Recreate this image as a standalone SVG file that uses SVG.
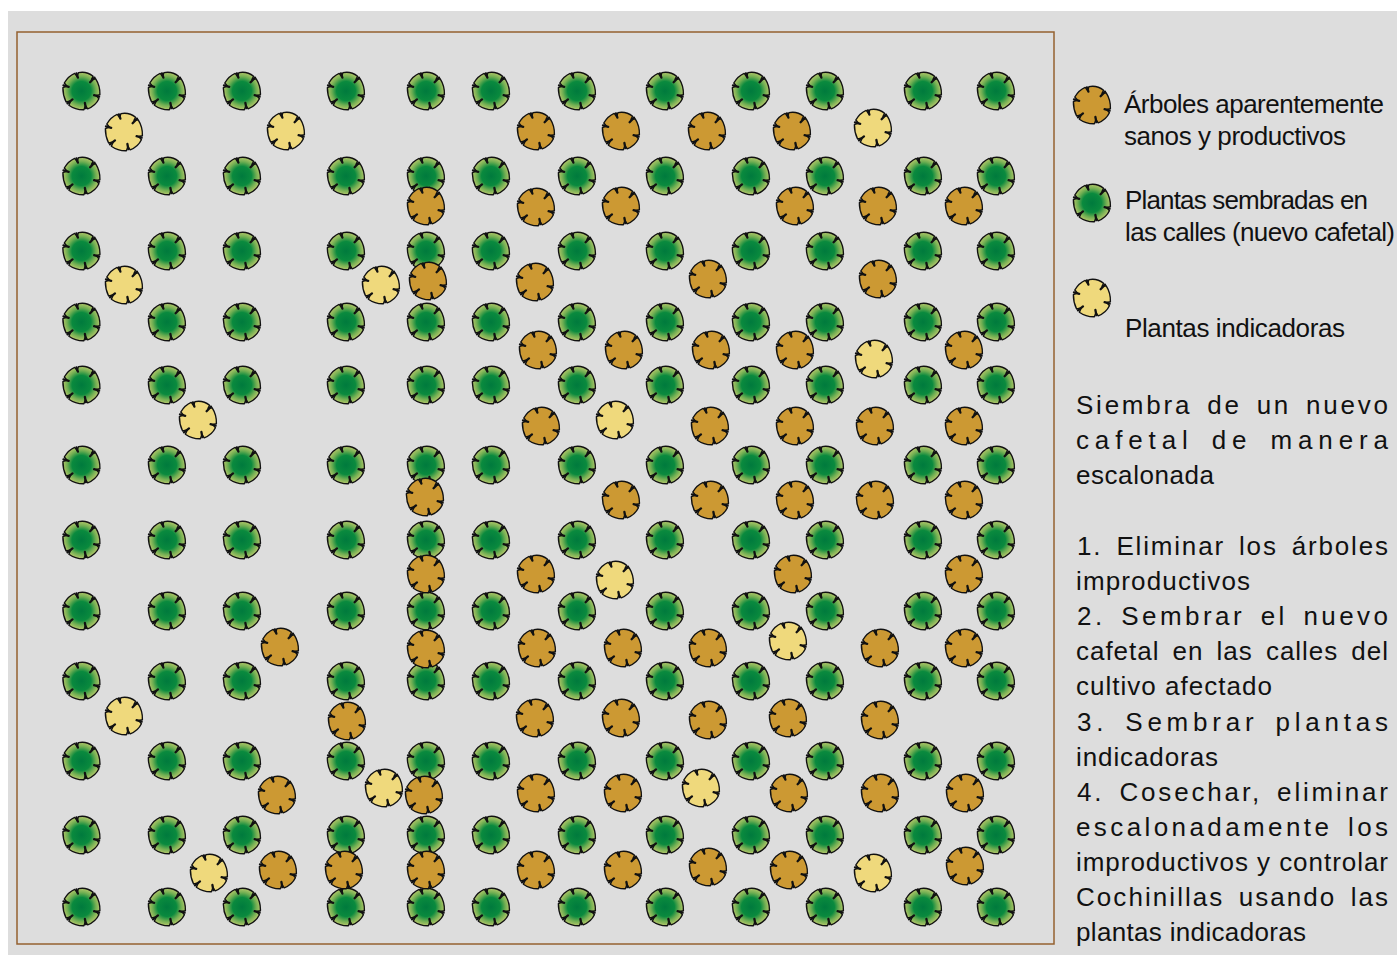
<svg xmlns="http://www.w3.org/2000/svg" xmlns:xlink="http://www.w3.org/1999/xlink" width="1397" height="955" viewBox="0 0 1397 955">
<style>
.t{font-family:"Liberation Sans",Arial,sans-serif;font-size:26px;fill:#111}
.w{word-spacing:5px}
.o{fill:#cc9933}.y{fill:#efd97c}.g{fill:url(#gr)}
</style>
<defs>
<radialGradient id="gr" gradientUnits="userSpaceOnUse" cx="0" cy="0" r="19">
<stop offset="0" stop-color="#007a3d"/><stop offset="0.5" stop-color="#0a8a3e"/><stop offset="0.75" stop-color="#6fae52"/><stop offset="1" stop-color="#b9c96c"/>
</radialGradient>
<symbol id="p" viewBox="-21 -21 42 42" width="42" height="42" overflow="visible">
<path stroke="#111" stroke-width="1.4" stroke-linejoin="round" d="M-3,-18.4Q5,-20 11.6,-14.8L10,-11.6L14.2,-12.2Q18.8,-5 18.4,3.8L14.8,4.4L17.4,7.8Q14,15 6.2,17.8L4,14.6L2.4,18.8Q-6,19 -12.6,14.2L-10.8,10L-15.4,11Q-18.8,4 -18.6,-3.4L-14.6,-5L-17.2,-8Q-13,-15 -6.8,-17.6L-4.4,-14.4Z"/>
<path fill="none" stroke="#111" stroke-width="2.3" stroke-linecap="round" d="M-5,-17.6L-3.6,-13.4M13,-13.4L8.6,-8.8M17.6,5.6L12.6,4.2M4.4,17.2L3.4,12M-14,12.4L-9,8.4M-18,-5.6L-12.8,-4.2"/>
</symbol>
</defs>
<rect x="8" y="11" width="1389" height="944" fill="#dddddd"/>
<rect x="17" y="32" width="1037" height="912" fill="none" stroke="#94602f" stroke-width="1.5"/>
<g id="plantas-sembradas" class="g">
<use href="#p" x="60.5" y="70"/><use href="#p" x="146" y="70"/><use href="#p" x="221" y="70"/><use href="#p" x="325" y="70"/><use href="#p" x="405" y="70"/><use href="#p" x="470" y="70"/><use href="#p" x="556" y="70"/><use href="#p" x="644" y="70"/><use href="#p" x="730" y="70"/><use href="#p" x="804" y="70"/><use href="#p" x="902" y="70"/><use href="#p" x="975" y="70"/>
<use href="#p" x="60.5" y="155"/><use href="#p" x="146" y="155"/><use href="#p" x="221" y="155"/><use href="#p" x="325" y="155"/><use href="#p" x="405" y="155"/><use href="#p" x="470" y="155"/><use href="#p" x="556" y="155"/><use href="#p" x="644" y="155"/><use href="#p" x="730" y="155"/><use href="#p" x="804" y="155"/><use href="#p" x="902" y="155"/><use href="#p" x="975" y="155"/>
<use href="#p" x="60.5" y="230"/><use href="#p" x="146" y="230"/><use href="#p" x="221" y="230"/><use href="#p" x="325" y="230"/><use href="#p" x="405" y="230"/><use href="#p" x="470" y="230"/><use href="#p" x="556" y="230"/><use href="#p" x="644" y="230"/><use href="#p" x="730" y="230"/><use href="#p" x="804" y="230"/><use href="#p" x="902" y="230"/><use href="#p" x="975" y="230"/>
<use href="#p" x="60.5" y="301"/><use href="#p" x="146" y="301"/><use href="#p" x="221" y="301"/><use href="#p" x="325" y="301"/><use href="#p" x="405" y="301"/><use href="#p" x="470" y="301"/><use href="#p" x="556" y="301"/><use href="#p" x="644" y="301"/><use href="#p" x="730" y="301"/><use href="#p" x="804" y="301"/><use href="#p" x="902" y="301"/><use href="#p" x="975" y="301"/>
<use href="#p" x="60.5" y="364"/><use href="#p" x="146" y="364"/><use href="#p" x="221" y="364"/><use href="#p" x="325" y="364"/><use href="#p" x="405" y="364"/><use href="#p" x="470" y="364"/><use href="#p" x="556" y="364"/><use href="#p" x="644" y="364"/><use href="#p" x="730" y="364"/><use href="#p" x="804" y="364"/><use href="#p" x="902" y="364"/><use href="#p" x="975" y="364"/>
<use href="#p" x="60.5" y="444"/><use href="#p" x="146" y="444"/><use href="#p" x="221" y="444"/><use href="#p" x="325" y="444"/><use href="#p" x="405" y="444"/><use href="#p" x="470" y="444"/><use href="#p" x="556" y="444"/><use href="#p" x="644" y="444"/><use href="#p" x="730" y="444"/><use href="#p" x="804" y="444"/><use href="#p" x="902" y="444"/><use href="#p" x="975" y="444"/>
<use href="#p" x="60.5" y="519"/><use href="#p" x="146" y="519"/><use href="#p" x="221" y="519"/><use href="#p" x="325" y="519"/><use href="#p" x="405" y="519"/><use href="#p" x="470" y="519"/><use href="#p" x="556" y="519"/><use href="#p" x="644" y="519"/><use href="#p" x="730" y="519"/><use href="#p" x="804" y="519"/><use href="#p" x="902" y="519"/><use href="#p" x="975" y="519"/>
<use href="#p" x="60.5" y="590"/><use href="#p" x="146" y="590"/><use href="#p" x="221" y="590"/><use href="#p" x="325" y="590"/><use href="#p" x="405" y="590"/><use href="#p" x="470" y="590"/><use href="#p" x="556" y="590"/><use href="#p" x="644" y="590"/><use href="#p" x="730" y="590"/><use href="#p" x="804" y="590"/><use href="#p" x="902" y="590"/><use href="#p" x="975" y="590"/>
<use href="#p" x="60.5" y="660"/><use href="#p" x="146" y="660"/><use href="#p" x="221" y="660"/><use href="#p" x="325" y="660"/><use href="#p" x="405" y="660"/><use href="#p" x="470" y="660"/><use href="#p" x="556" y="660"/><use href="#p" x="644" y="660"/><use href="#p" x="730" y="660"/><use href="#p" x="804" y="660"/><use href="#p" x="902" y="660"/><use href="#p" x="975" y="660"/>
<use href="#p" x="60.5" y="740"/><use href="#p" x="146" y="740"/><use href="#p" x="221" y="740"/><use href="#p" x="325" y="740"/><use href="#p" x="405" y="740"/><use href="#p" x="470" y="740"/><use href="#p" x="556" y="740"/><use href="#p" x="644" y="740"/><use href="#p" x="730" y="740"/><use href="#p" x="804" y="740"/><use href="#p" x="902" y="740"/><use href="#p" x="975" y="740"/>
<use href="#p" x="60.5" y="814"/><use href="#p" x="146" y="814"/><use href="#p" x="221" y="814"/><use href="#p" x="325" y="814"/><use href="#p" x="405" y="814"/><use href="#p" x="470" y="814"/><use href="#p" x="556" y="814"/><use href="#p" x="644" y="814"/><use href="#p" x="730" y="814"/><use href="#p" x="804" y="814"/><use href="#p" x="902" y="814"/><use href="#p" x="975" y="814"/>
<use href="#p" x="60.5" y="886"/><use href="#p" x="146" y="886"/><use href="#p" x="221" y="886"/><use href="#p" x="325" y="886"/><use href="#p" x="405" y="886"/><use href="#p" x="470" y="886"/><use href="#p" x="556" y="886"/><use href="#p" x="644" y="886"/><use href="#p" x="730" y="886"/><use href="#p" x="804" y="886"/><use href="#p" x="902" y="886"/><use href="#p" x="975" y="886"/>
<use href="#p" x="1071" y="182"/>
</g>
<g id="arboles-sanos" class="o">
<use href="#p" x="515" y="110"/><use href="#p" x="600" y="110"/><use href="#p" x="686" y="110"/><use href="#p" x="771" y="110"/>
<use href="#p" x="405" y="185"/><use href="#p" x="515" y="186"/><use href="#p" x="600" y="185"/><use href="#p" x="774" y="185"/><use href="#p" x="857" y="185"/><use href="#p" x="943" y="185"/>
<use href="#p" x="407" y="260"/><use href="#p" x="514" y="261"/><use href="#p" x="687" y="258"/><use href="#p" x="857" y="258"/>
<use href="#p" x="517" y="329"/><use href="#p" x="603" y="329"/><use href="#p" x="690" y="329"/><use href="#p" x="774" y="329"/><use href="#p" x="943" y="329"/>
<use href="#p" x="520" y="405"/><use href="#p" x="689" y="405"/><use href="#p" x="774" y="405"/><use href="#p" x="854" y="405"/><use href="#p" x="943" y="405"/>
<use href="#p" x="404" y="476"/><use href="#p" x="600" y="479"/><use href="#p" x="689" y="479"/><use href="#p" x="774" y="479"/><use href="#p" x="854" y="479"/><use href="#p" x="943" y="479"/>
<use href="#p" x="405" y="553"/><use href="#p" x="515" y="553"/><use href="#p" x="772" y="553"/><use href="#p" x="943" y="553"/>
<use href="#p" x="259" y="626"/><use href="#p" x="405" y="628"/><use href="#p" x="516" y="627"/><use href="#p" x="602" y="627"/><use href="#p" x="687" y="627"/><use href="#p" x="859" y="627"/><use href="#p" x="943" y="627"/>
<use href="#p" x="326" y="700"/><use href="#p" x="514" y="697"/><use href="#p" x="600" y="697"/><use href="#p" x="687" y="699"/><use href="#p" x="767" y="697"/><use href="#p" x="859" y="699"/>
<use href="#p" x="256" y="774"/><use href="#p" x="403" y="774"/><use href="#p" x="515" y="772"/><use href="#p" x="602" y="772"/><use href="#p" x="768" y="772"/><use href="#p" x="859" y="772"/><use href="#p" x="944" y="772"/>
<use href="#p" x="257" y="849"/><use href="#p" x="323" y="849"/><use href="#p" x="405" y="849"/><use href="#p" x="515" y="849"/><use href="#p" x="602" y="849"/><use href="#p" x="687" y="846"/><use href="#p" x="768" y="849"/><use href="#p" x="944" y="845"/>
<use href="#p" x="1071" y="84"/>
</g>
<g id="plantas-indicadoras" class="y">
<use href="#p" x="103" y="111"/><use href="#p" x="265" y="110"/><use href="#p" x="852" y="107"/><use href="#p" x="103" y="264"/><use href="#p" x="360" y="264"/><use href="#p" x="853" y="338"/><use href="#p" x="177" y="399"/><use href="#p" x="594" y="399"/><use href="#p" x="594" y="559"/><use href="#p" x="767" y="620"/><use href="#p" x="103" y="695"/><use href="#p" x="363" y="767"/><use href="#p" x="680" y="767"/><use href="#p" x="188" y="852"/><use href="#p" x="852" y="852"/>
<use href="#p" x="1071" y="277"/>
</g>
<g id="leyenda">
<text class="t" x="1124" y="113" textLength="260">Árboles aparentemente</text>
<text class="t" x="1124" y="145" textLength="222">sanos y productivos</text>
<text class="t" x="1125" y="209" textLength="243">Plantas sembradas en</text>
<text class="t" x="1125" y="241" textLength="270">las calles (nuevo cafetal)</text>
<text class="t" x="1125" y="337" textLength="220">Plantas indicadoras</text>
</g>
<g id="texto">
<text class="t w" x="1076" y="414" textLength="312">Siembra de un nuevo</text>
<text class="t w" x="1076" y="449" textLength="312">cafetal de manera</text>
<text class="t" x="1076" y="484" textLength="138">escalonada</text>
<text class="t w" x="1077" y="555" textLength="311">1. Eliminar los árboles</text>
<text class="t" x="1076" y="590" textLength="174">improductivos</text>
<text class="t w" x="1077" y="625" textLength="311">2. Sembrar el nuevo</text>
<text class="t w" x="1076" y="660" textLength="312">cafetal en las calles del</text>
<text class="t" x="1076" y="695" textLength="196">cultivo afectado</text>
<text class="t w" x="1077" y="731" textLength="311">3. Sembrar plantas</text>
<text class="t" x="1076" y="766" textLength="142">indicadoras</text>
<text class="t w" x="1077" y="801" textLength="311">4. Cosechar, eliminar</text>
<text class="t w" x="1076" y="836" textLength="312">escalonadamente los</text>
<text class="t" x="1076" y="871" textLength="312">improductivos y controlar</text>
<text class="t w" x="1076" y="906" textLength="312">Cochinillas usando las</text>
<text class="t" x="1076" y="941" textLength="230">plantas indicadoras</text>
</g>
</svg>
